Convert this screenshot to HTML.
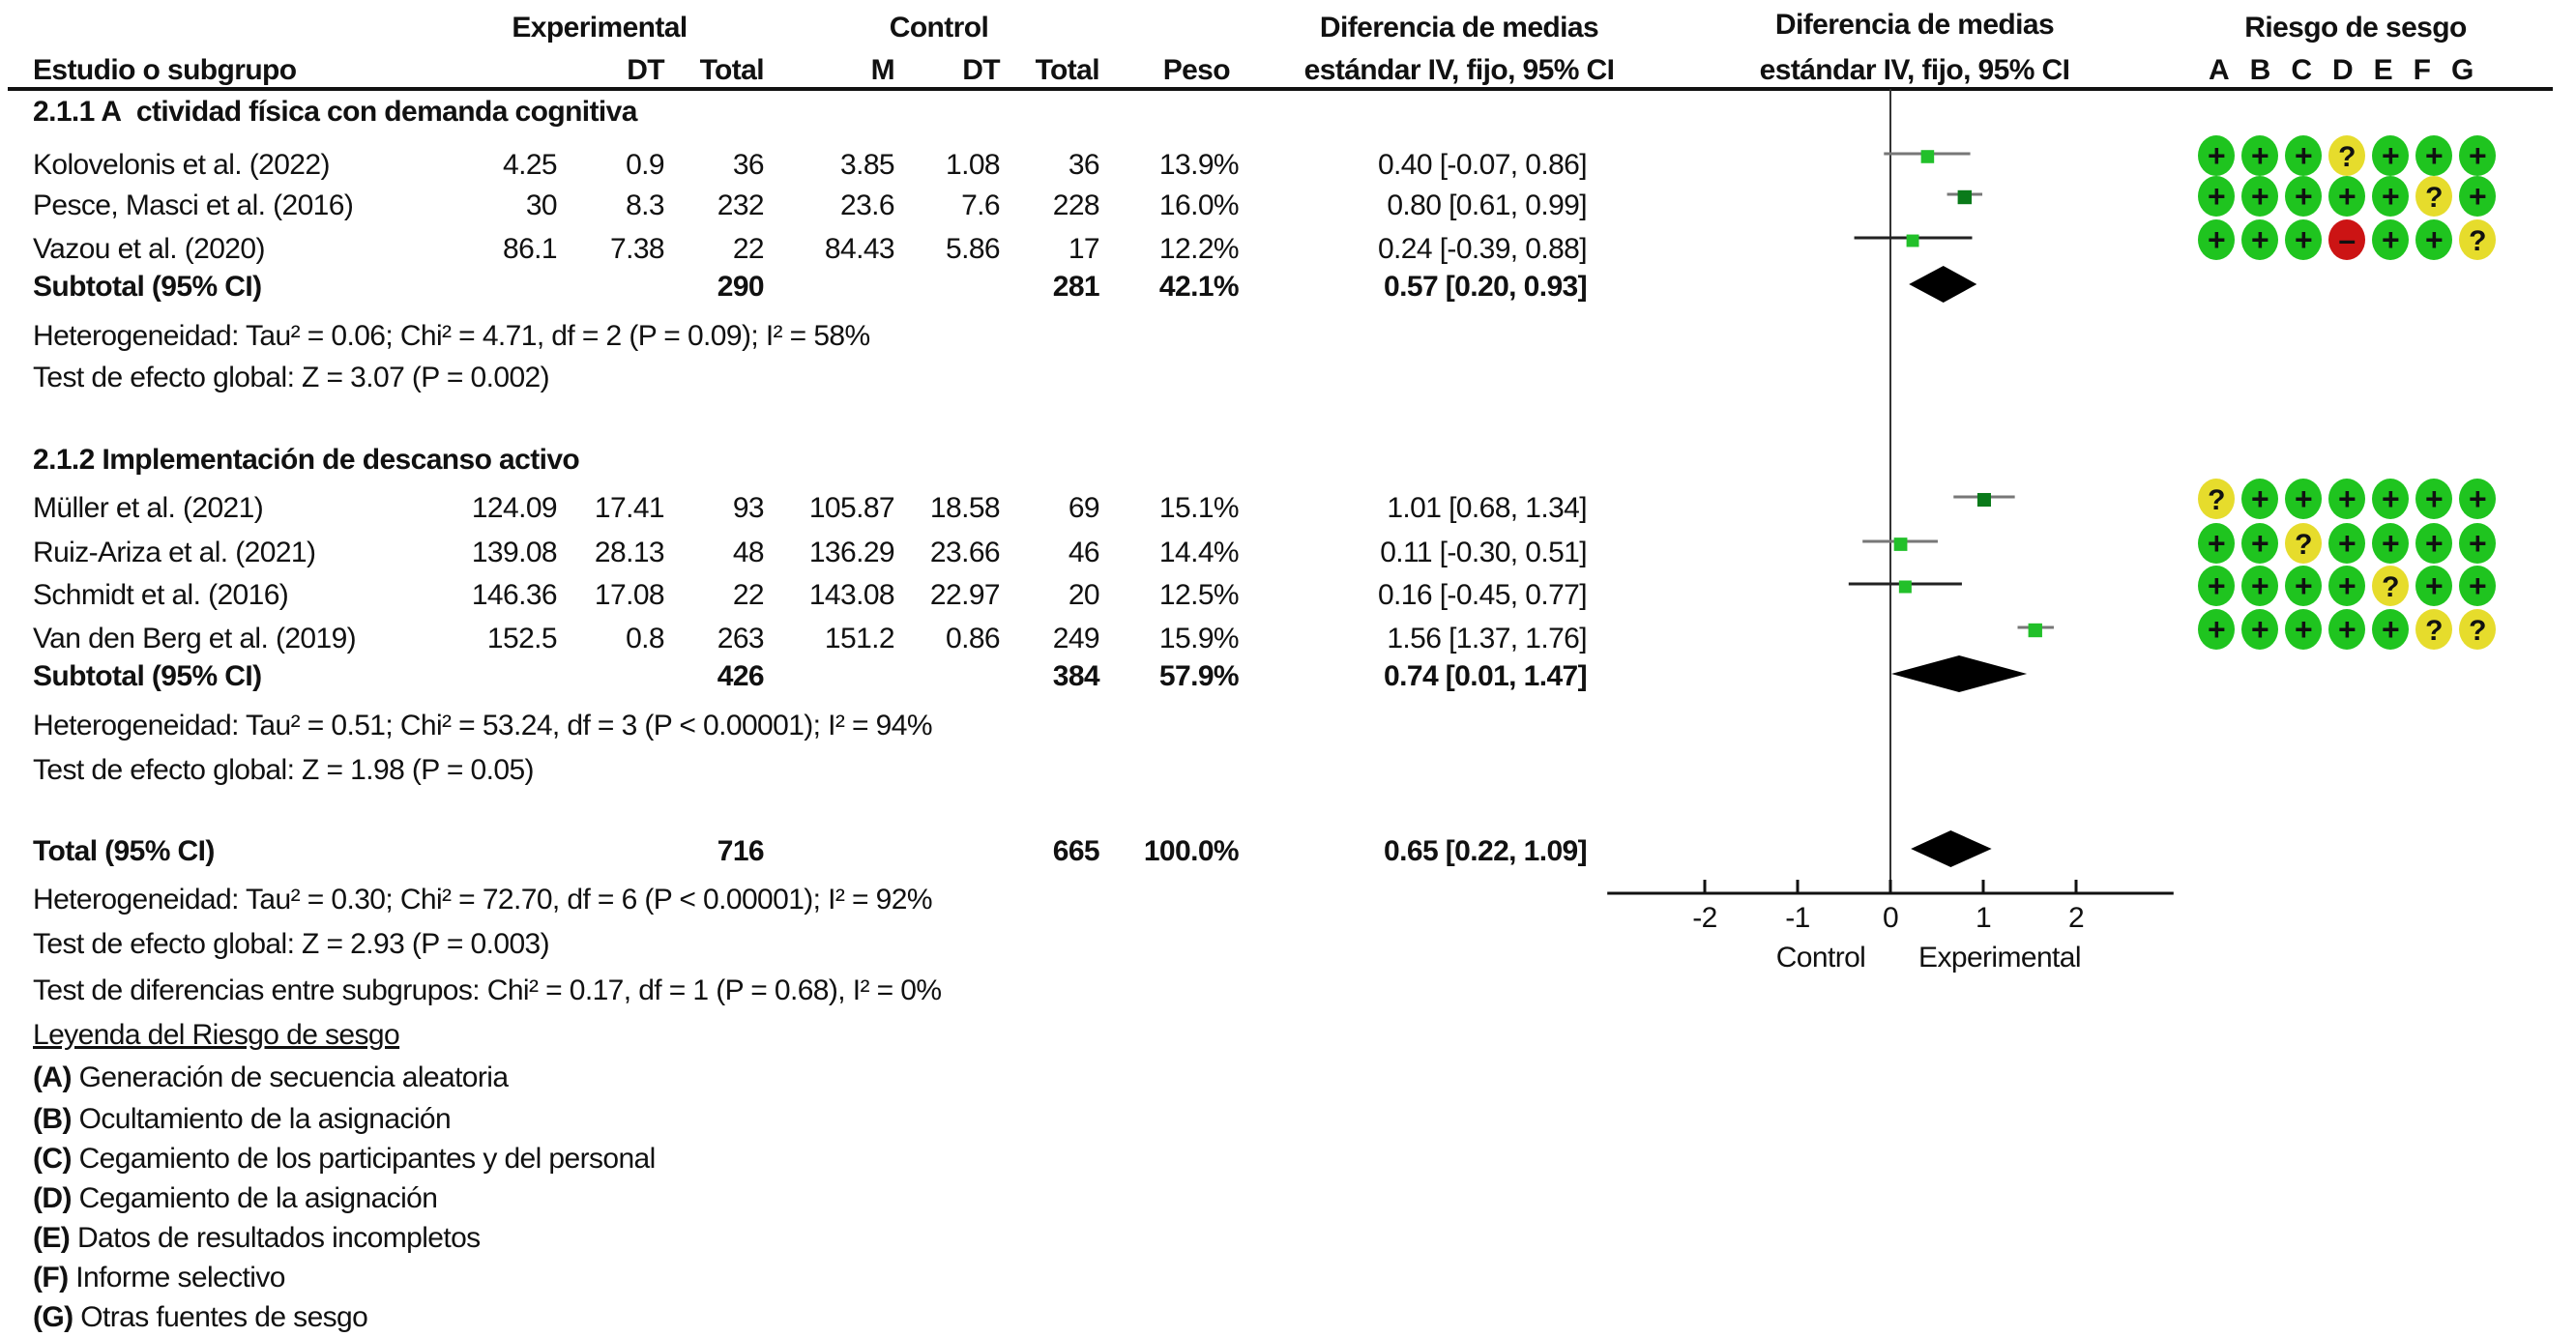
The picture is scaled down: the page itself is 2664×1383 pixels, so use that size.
<!DOCTYPE html>
<html><head><meta charset="utf-8">
<style>
body{margin:0;background:#fff;}
#root{position:relative;width:2664px;height:1383px;overflow:hidden;background:#fff;font-family:"Liberation Sans",Arial,sans-serif;font-size:30px;color:#111;letter-spacing:-0.6px;}
.t{position:absolute;line-height:40px;white-space:nowrap;}
.r{text-align:right;}
.c{text-align:center;}
.b{font-weight:bold;}
svg{position:absolute;left:0;top:0;}
</style></head><body>
<div id="root">
<div class="t b c" style="left:520px;top:9px;width:200px">Experimental</div>
<div class="t b c" style="left:871px;top:9px;width:200px">Control</div>
<div class="t b c" style="left:1309px;top:9px;width:400px">Diferencia de medias</div>
<div class="t b c" style="left:1780px;top:6px;width:400px">Diferencia de medias</div>
<div class="t b c" style="left:2236px;top:9px;width:400px">Riesgo de sesgo</div>
<div class="t b" style="left:34px;top:53px">Estudio o subgrupo</div>
<div class="t b r" style="left:587px;top:53px;width:100px">DT</div>
<div class="t b r" style="left:690px;top:53px;width:100px">Total</div>
<div class="t b r" style="left:825px;top:53px;width:100px">M</div>
<div class="t b r" style="left:934px;top:53px;width:100px">DT</div>
<div class="t b r" style="left:1037px;top:53px;width:100px">Total</div>
<div class="t b r" style="left:1172px;top:53px;width:100px">Peso</div>
<div class="t b c" style="left:1309px;top:53px;width:400px">estándar IV, fijo, 95% CI</div>
<div class="t b c" style="left:1780px;top:53px;width:400px">estándar IV, fijo, 95% CI</div>
<div class="t b" style="left:2284px;top:53px;letter-spacing:21px">ABCDEFG</div>

<div class="t b" style="left:34px;top:96px">2.1.1 A&nbsp; ctividad física con demanda cognitiva</div>
<div class="t" style="left:34px;top:151px">Kolovelonis et al. (2022)</div>
<div class="t" style="left:34px;top:193px">Pesce, Masci et al. (2016)</div>
<div class="t" style="left:34px;top:238px">Vazou et al. (2020)</div>
<div class="t b" style="left:34px;top:277px">Subtotal (95% CI)</div>
<div class="t" style="left:34px;top:328px">Heterogeneidad: Tau² = 0.06; Chi² = 4.71, df = 2 (P = 0.09); I² = 58%</div>
<div class="t" style="left:34px;top:371px">Test de efecto global: Z = 3.07 (P = 0.002)</div>

<div class="t b" style="left:34px;top:456px">2.1.2 Implementación de descanso activo</div>
<div class="t" style="left:34px;top:506px">Müller et al. (2021)</div>
<div class="t" style="left:34px;top:552px">Ruiz-Ariza et al. (2021)</div>
<div class="t" style="left:34px;top:596px">Schmidt et al. (2016)</div>
<div class="t" style="left:34px;top:641px">Van den Berg et al. (2019)</div>
<div class="t b" style="left:34px;top:680px">Subtotal (95% CI)</div>
<div class="t" style="left:34px;top:731px">Heterogeneidad: Tau² = 0.51; Chi² = 53.24, df = 3 (P &lt; 0.00001); I² = 94%</div>
<div class="t" style="left:34px;top:777px">Test de efecto global: Z = 1.98 (P = 0.05)</div>

<div class="t b" style="left:34px;top:861px">Total (95% CI)</div>
<div class="t" style="left:34px;top:911px">Heterogeneidad: Tau² = 0.30; Chi² = 72.70, df = 6 (P &lt; 0.00001); I² = 92%</div>
<div class="t" style="left:34px;top:957px">Test de efecto global: Z = 2.93 (P = 0.003)</div>
<div class="t" style="left:34px;top:1005px">Test de diferencias entre subgrupos: Chi² = 0.17, df = 1 (P = 0.68), I² = 0%</div>
<div class="t" style="left:34px;top:1051px;text-decoration:underline">Leyenda del Riesgo de sesgo</div>
<div class="t" style="left:34px;top:1095px"><b>(A)</b> Generación de secuencia aleatoria</div>
<div class="t" style="left:34px;top:1138px"><b>(B)</b> Ocultamiento de la asignación</div>
<div class="t" style="left:34px;top:1179px"><b>(C)</b> Cegamiento de los participantes y del personal</div>
<div class="t" style="left:34px;top:1220px"><b>(D)</b> Cegamiento de la asignación</div>
<div class="t" style="left:34px;top:1261px"><b>(E)</b> Datos de resultados incompletos</div>
<div class="t" style="left:34px;top:1302px"><b>(F)</b> Informe selectivo</div>
<div class="t" style="left:34px;top:1343px"><b>(G)</b> Otras fuentes de sesgo</div>

<div id="cells"></div>
<svg id="plot" width="2664" height="1383"></svg>
</div>
<script>
const rowY = [171, 213, 258, 526, 572, 616, 661];
const expM = ["4.25", "30", "86.1", "124.09", "139.08", "146.36", "152.5"];
const expDT = ["0.9", "8.3", "7.38", "17.41", "28.13", "17.08", "0.8"];
const expN = ["36", "232", "22", "93", "48", "22", "263"];
const ctlM = ["3.85", "23.6", "84.43", "105.87", "136.29", "143.08", "151.2"];
const ctlDT = ["1.08", "7.6", "5.86", "18.58", "23.66", "22.97", "0.86"];
const ctlN = ["36", "228", "17", "69", "46", "20", "249"];
const weight = [13.9, 16.0, 12.2, 15.1, 14.4, 12.5, 15.9];
const smd = [0.40, 0.80, 0.24, 1.01, 0.11, 0.16, 1.56];
const lo = [-0.07, 0.61, -0.39, 0.68, -0.30, -0.45, 1.37];
const hi = [0.86, 0.99, 0.88, 1.34, 0.51, 0.77, 1.76];
const ciDark = [false, false, true, false, false, true, false];
const sumY = [297, 700, 881];
const sumExpN = ["290", "426", "716"];
const sumCtlN = ["281", "384", "665"];
const sumW = ["42.1%", "57.9%", "100.0%"];
const sumEst = [0.57, 0.74, 0.65];
const sumLo = [0.20, 0.01, 0.22];
const sumHi = [0.93, 1.47, 1.09];
const ticks = [-2, -1, 0, 1, 2];
const bias = ["+++?+++", "+++++?+", "+++-++?", "?++++++", "++?++++", "++++?++", "+++++??"];

const X0 = 1955, UNIT = 96;
const xs = v => X0 + v * UNIT;
const AX_Y = 924;

const cells = document.getElementById('cells');
function cell(txt, right, y, bold, name) {
  const d = document.createElement('div');
  d.className = 't r' + (bold ? ' b' : '');
  d.style.left = (right - 300) + 'px';
  d.style.width = '300px';
  d.style.top = (y - 20) + 'px';
  d.textContent = txt;
  
  
  cells.appendChild(d);
}
const f2 = v => v.toFixed(2);
rowY.forEach((y, i) => {
  cell(expM[i], 576, y, false, 'exp-mean');
  cell(expDT[i], 687, y, false, 'exp-sd');
  cell(expN[i], 790, y, false, 'exp-total');
  cell(ctlM[i], 925, y, false, 'ctrl-mean');
  cell(ctlDT[i], 1034, y, false, 'ctrl-sd');
  cell(ctlN[i], 1137, y, false, 'ctrl-total');
  cell(weight[i].toFixed(1) + '%', 1281, y, false, 'weight');
  cell(f2(smd[i]) + ' [' + f2(lo[i]) + ', ' + f2(hi[i]) + ']', 1641, y, false, 'effect-ci-text');
});
sumY.forEach((y, i) => {
  cell(sumExpN[i], 790, y, true, 'summary-exp-total');
  cell(sumCtlN[i], 1137, y, true, 'summary-ctrl-total');
  cell(sumW[i], 1281, y, true, 'summary-weight');
  cell(f2(sumEst[i]) + ' [' + f2(sumLo[i]) + ', ' + f2(sumHi[i]) + ']', 1641, y, true, 'summary-effect-text');
});

const svg = document.getElementById('plot');
const NS = 'http://www.w3.org/2000/svg';
function mk(tag, attrs, name) {
  const e = document.createElementNS(NS, tag);
  for (const k in attrs) e.setAttribute(k, attrs[k]);
  
  
  svg.appendChild(e);
  return e;
}
mk('line', {x1: 8, x2: 2640, y1: 92, y2: 92, stroke: '#111', 'stroke-width': 4}, 'header-rule');
mk('line', {x1: xs(0), x2: xs(0), y1: 92, y2: AX_Y, stroke: '#333', 'stroke-width': 2}, 'null-line');
mk('line', {x1: xs(-3.05), x2: xs(3.05), y1: AX_Y, y2: AX_Y, stroke: '#111', 'stroke-width': 3}, 'x-axis');
ticks.forEach(t => {
  mk('line', {x1: xs(t), x2: xs(t), y1: AX_Y - 14, y2: AX_Y, stroke: '#111', 'stroke-width': 3}, 'x-tick');
  const tx = mk('text', {x: xs(t), y: AX_Y + 35, 'text-anchor': 'middle', 'font-family': 'Liberation Sans, sans-serif', 'font-size': 30, fill: '#111'}, 'x-tick-label');
  tx.textContent = t;
});
const lc = mk('text', {x: 1883, y: 1000, 'text-anchor': 'middle', 'font-family': 'Liberation Sans, sans-serif', 'font-size': 30, fill: '#111'}, 'favours-control-label');
lc.textContent = 'Control';
const le = mk('text', {x: 2068, y: 1000, 'text-anchor': 'middle', 'font-family': 'Liberation Sans, sans-serif', 'font-size': 30, fill: '#111'}, 'favours-experimental-label');
le.textContent = 'Experimental';

rowY.forEach((y, i) => {
  const cy = y - 12;
  mk('line', {x1: xs(lo[i]), x2: xs(hi[i]), y1: cy, y2: cy, stroke: ciDark[i] ? '#222' : '#777', 'stroke-width': 3}, 'ci-line');
  const s = 8 + weight[i] * 0.4;
  mk('rect', {x: xs(smd[i]) - s / 2, y: cy - s / 2 + 3, width: s, height: s, fill: i === 1 || i === 3 ? '#0a7a1a' : '#22c02a'}, 'study-square');
});
sumY.forEach((y, i) => {
  const cy = y - 3, h = 19;
  const pts = [[xs(sumLo[i]), cy], [xs(sumEst[i]), cy - h], [xs(sumHi[i]), cy], [xs(sumEst[i]), cy + h]].map(p => p.join(',')).join(' ');
  mk('polygon', {points: pts, fill: '#000'}, 'summary-diamond');
});
const biasX0 = 2292, biasDX = 45;
rowY.forEach((y, i) => {
  const cy = y - 10;
  bias[i].split('').forEach((c, j) => {
    const cx = biasX0 + j * biasDX;
    const col = c === '+' ? '#1fc41f' : c === '?' ? '#e6dc2c' : '#cc1414';
    mk('ellipse', {cx: cx, cy: cy, rx: 19, ry: 21, fill: col}, 'bias-circle');
    const tx = mk('text', {x: cx, y: cy + 11, 'text-anchor': 'middle', 'font-family': 'Liberation Sans, sans-serif', 'font-weight': 'bold', 'font-size': c === '?' ? 30 : 32, fill: '#111'}, 'bias-symbol');
    tx.textContent = c === '-' ? '–' : c;
  });
});
</script>
</body></html>
